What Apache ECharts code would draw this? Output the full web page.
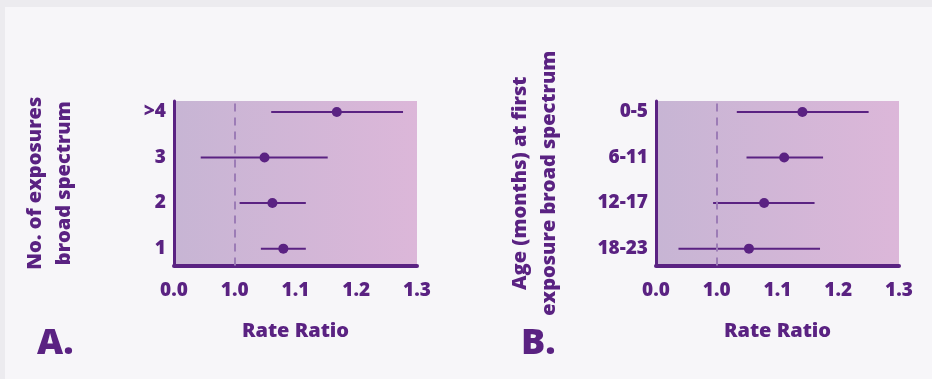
<!DOCTYPE html>
<html>
<head>
<meta charset="utf-8">
<script src="https://cdn.jsdelivr.net/npm/echarts@6/dist/echarts.min.js"></script>
<style>
html,body{margin:0;padding:0;background:#ecebef;}
#chart{width:932px;height:379px;}
</style>
</head>
<body>
<div id="chart"></div>
<script>
// Panel A: number of exposures (bottom to top)
const catsA = ['1', '2', '3', '>4'];
const rrA = [1.080, 1.062, 1.049, 1.168];
const loA = [1.043, 1.008, 0.944, 1.060];
const hiA = [1.117, 1.117, 1.153, 1.277];

// Panel B: age (months) at first exposure (bottom to top)
const catsB = ['18-23', '12-17', '6-11', '0-5'];
const rrB = [1.053, 1.078, 1.111, 1.141];
const loB = [0.937, 0.994, 1.049, 1.033];
const hiB = [1.170, 1.161, 1.175, 1.250];

// x tick values (axis drawn 0.9..1.3, first label printed as "0.0" in source)
const xTicks = [0.9, 1.0, 1.1, 1.2, 1.3];
const xTickLabels = ['0.0', '1.0', '1.1', '1.2', '1.3'];

const TXT = '#5a2282';
const FONT = '"Open Sans"';
const W = 800;

const chart = echarts.init(document.getElementById('chart'), null, {renderer: 'canvas'});

function gridBg() {
  return new echarts.graphic.LinearGradient(0, 0, 1, 0, [
    {offset: 0, color: '#c7b5d4'},
    {offset: 1, color: '#dcb7d9'}
  ]);
}

function xAxis(idx) {
  return {
    type: 'value', gridIndex: idx, min: 0.9, max: 1.3, interval: 0.1,
    axisLine: {show: true, onZero: false, lineStyle: {color: TXT, width: 4}},
    axisTick: {show: false}, splitLine: {show: false},
    axisLabel: {
      color: TXT, fontFamily: FONT, fontWeight: W, fontSize: 19, margin: 16,
      formatter: v => { const i = xTicks.findIndex(t => Math.abs(t - v) < 1e-6); return i >= 0 ? xTickLabels[i] : ''; }
    },
    name: 'Rate Ratio', nameLocation: 'middle', nameGap: 56,
    nameTextStyle: {color: TXT, fontFamily: FONT, fontWeight: W, fontSize: 20}
  };
}

function yAxis(idx, cats, name, gap) {
  return {
    type: 'value', gridIndex: idx, min: -0.37, max: 3.24,
    axisLine: {show: true, onZero: false, lineStyle: {color: TXT, width: 3}},
    axisTick: {show: false}, splitLine: {show: false},
    axisLabel: {
      customValues: [0, 1, 2, 3],
      color: TXT, fontFamily: FONT, fontWeight: W, fontSize: 19, margin: 8,
      formatter: v => cats[Math.round(v)] || ''
    },
    name: name, nameLocation: 'middle', nameGap: gap, nameRotate: 90,
    nameTextStyle: {color: TXT, fontFamily: FONT, fontWeight: W, fontSize: 20, lineHeight: 29, align: 'center'}
  };
}

function errSeries(idx, lo, hi) {
  return {
    type: 'custom', xAxisIndex: idx, yAxisIndex: idx,
    data: lo.map((l, i) => [l, hi[i], i]),
    renderItem: (params, api) => {
      const a = api.coord([api.value(0), api.value(2)]);
      const b = api.coord([api.value(1), api.value(2)]);
      return {type: 'line', shape: {x1: a[0], y1: a[1], x2: b[0], y2: b[1]}, style: {stroke: TXT, lineWidth: 2}};
    },
    silent: true, z: 3
  };
}

function ptSeries(idx, rr) {
  return {
    type: 'scatter', xAxisIndex: idx, yAxisIndex: idx,
    data: rr.map((v, i) => [v, i]), symbolSize: 10,
    itemStyle: {color: TXT, opacity: 1}, z: 4, silent: true,
    markLine: {
      silent: true, symbol: ['none', 'none'], label: {show: false},
      lineStyle: {color: '#9c7cb6', width: 2, type: [8, 6]},
      data: [{xAxis: 1.0}]
    }
  };
}

const option = {
  backgroundColor: '#ecebef',
  animation: false,
  graphic: [
    {type: 'rect', shape: {x: 5, y: 7, width: 927, height: 372}, style: {fill: '#f7f6f9'}, z: -10, silent: true},
    {type: 'text', left: 37, top: 326, style: {text: 'A.', fill: TXT, font: W + ' 36px ' + FONT}},
    {type: 'text', left: 521, top: 326, style: {text: 'B.', fill: TXT, font: W + ' 36px ' + FONT}}
  ],
  grid: [
    {left: 174, top: 101, width: 243, height: 164.5, show: true, borderWidth: 0, backgroundColor: gridBg()},
    {left: 656, top: 101, width: 243, height: 164.5, show: true, borderWidth: 0, backgroundColor: gridBg()}
  ],
  xAxis: [xAxis(0), xAxis(1)],
  yAxis: [
    yAxis(0, catsA, 'No. of exposures\nbroad spectrum', 95),
    yAxis(1, catsB, 'Age (months) at first\nexposure broad spectrum', 92)
  ],
  series: [
    errSeries(0, loA, hiA), ptSeries(0, rrA),
    errSeries(1, loB, hiB), ptSeries(1, rrB)
  ]
};
chart.setOption(option);
</script>
</body>
</html>
